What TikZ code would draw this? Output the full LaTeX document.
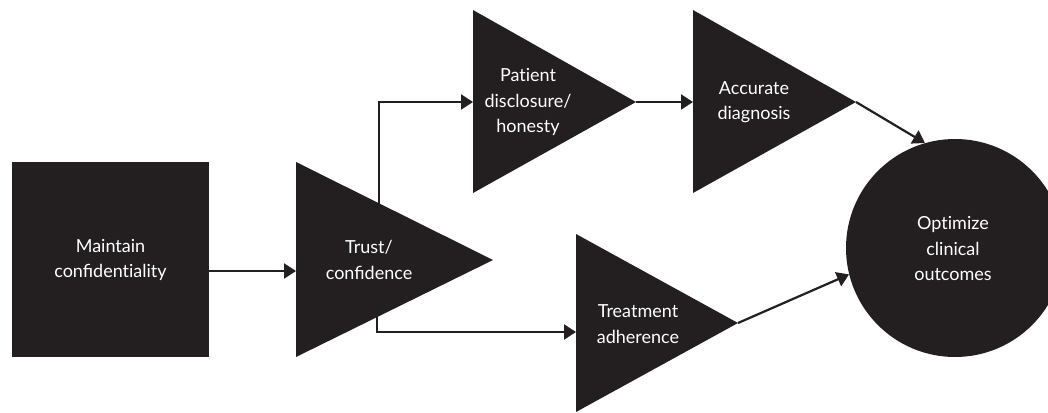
\documentclass[tikz,border=0pt]{standalone}
\usepackage{fontspec}
\setmainfont{Lato}[RawFeature=-liga]
\usetikzlibrary{arrows.meta}
\definecolor{ink}{HTML}{231F20}
\tikzset{
  shapefill/.style={fill=ink, draw=none},
  label/.style={text=white, align=center, inner sep=0pt,
    font=\fontsize{18}{25.5}\selectfont},
  link/.style={draw=ink, line width=2.2pt, -{Triangle[length=12pt,width=15pt]}},
}
\begin{document}
\begin{tikzpicture}[x=1pt,y=-1pt]
\useasboundingbox (0,0) rectangle (1048,412);

% Maintain confidentiality (square)
\fill[shapefill] (12,162) rectangle (209,357);
\node[label] (maint) at (110.5,260) {Maintain\\conﬁdentiality};
\coordinate (maintR) at (209,271);

% Trust / confidence
\fill[shapefill] (296,162) -- (296,357) -- (493,260) -- cycle;
\node[label] (trust) at (369,260) {Trust/\\conﬁdence};
\coordinate (trustL) at (296,271);
\coordinate (trustUp) at (379,240);
\coordinate (trustDown) at (377,290);

% Patient disclosure / honesty
\fill[shapefill] (473,10) -- (473,193) -- (636,102) -- cycle;
\node[label] (patient) at (528,102) {Patient\\disclosure/\\honesty};
\coordinate (patientL) at (473,102);
\coordinate (patientR) at (636,102);

% Accurate diagnosis
\fill[shapefill] (693,10) -- (693,193) -- (856,102) -- cycle;
\node[label] (accurate) at (754,102) {Accurate\\diagnosis};
\coordinate (accurateL) at (693,102);
\coordinate (accurateR) at (856,102);

% Treatment adherence
\fill[shapefill] (576,234) -- (576,412) -- (738,323) -- cycle;
\node[label] (treat) at (638,324) {Treatment\\adherence};
\coordinate (treatL) at (576,332);
\coordinate (treatR) at (738,323);

% Optimize clinical outcomes (circle)
\node[circle, shapefill, minimum size=218pt, inner sep=0pt] (opt) at (955,248) {};
\node[label] (optText) at (953,249) {Optimize\\clinical\\outcomes};

% Connectors
\draw[link] (maintR) -- (trustL);
\draw[link] (trustUp) |- (patientL);
\draw[link] (trustDown) |- (treatL);
\draw[link] (patientR) -- (accurateL);
\draw[link] (accurateR) -- (opt.106);
\draw[link] (treatR) -- (opt.194);
\end{tikzpicture}
\end{document}
